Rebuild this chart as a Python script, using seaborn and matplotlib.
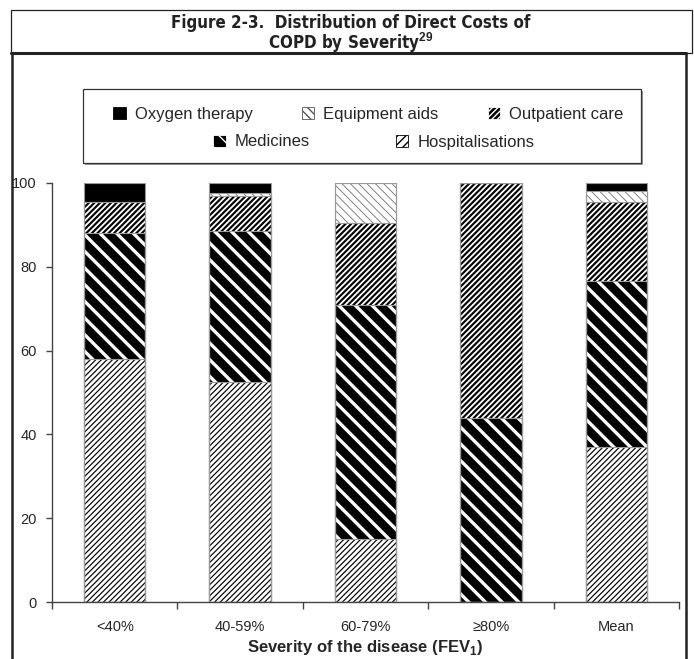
import numpy as np
import pandas as pd
import matplotlib
matplotlib.use("Agg")
import matplotlib.pyplot as plt
from matplotlib.patches import Rectangle, Patch
from matplotlib.lines import Line2D
import seaborn as sns

# data (percent of direct costs)
categories = ["<40%", "40-59%", "60-79%", "\u226580%", "Mean"]
hospitalisations = [58.0, 52.5, 15.0, 0.0, 37.0]
medicines = [30.0, 36.0, 56.0, 44.0, 39.5]
outpatient_care = [7.5, 8.3, 19.5, 56.0, 19.0]
equipment_aids = [0.0, 0.7, 9.5, 0.0, 2.5]
oxygen_therapy = [4.5, 2.5, 0.0, 0.0, 2.0]
yticks = [0, 20, 40, 60, 80, 100]

W, H = 694, 659
BAR_WIDTH = 0.49

sns.set_style("white")
plt.rcParams["font.family"] = ["Liberation Sans", "DejaVu Sans"]
plt.rcParams["mathtext.fontset"] = "custom"
plt.rcParams["mathtext.rm"] = "Liberation Sans"
plt.rcParams["mathtext.bf"] = "Liberation Sans:bold"


def fx(x):
    return x / W


def fy(y):
    return 1 - y / H


# style of each series: facecolor, hatch colour, hatch, hatch linewidth
styles = {
    "Oxygen therapy": ("black", "black", "", 0.5),
    "Equipment aids": ("white", "#707070", "\\" * 4, 0.6),
    "Outpatient care": ("black", "white", "/" * 6, 1.3),
    "Medicines": ("black", "white", "\\" * 2, 2.4),
    "Hospitalisations": ("white", "black", "/" * 6, 0.85),
}


def style_patch(p, name):
    face, hcol, hatch, hlw = styles[name]
    p.set_facecolor(face)
    p.set_edgecolor(hcol)
    p.set_linewidth(0)
    p.set_hatch(hatch)
    if hasattr(p, "set_hatch_linewidth"):
        p.set_hatch_linewidth(hlw)


df = pd.DataFrame({
    "severity": categories,
    "Hospitalisations": hospitalisations,
    "Medicines": medicines,
    "Outpatient care": outpatient_care,
    "Equipment aids": equipment_aids,
    "Oxygen therapy": oxygen_therapy,
})
stack_order = ["Hospitalisations", "Medicines", "Outpatient care", "Equipment aids", "Oxygen therapy"]
cum = df[stack_order].cumsum(axis=1)

fig = plt.figure(figsize=(W / 100, H / 100), dpi=100)
ax = fig.add_axes([fx(52), fy(602), fx(679) - fx(52), fy(183) - fy(602)])

# stacked bars: draw cumulative totals from the top segment down
for name in stack_order[::-1]:
    n0 = len(ax.patches)
    face = styles[name][0]
    with plt.rc_context({"hatch.linewidth": styles[name][3]}):
        sns.barplot(x=df["severity"], y=cum[name], order=categories, color=face,
                    saturation=1, width=BAR_WIDTH, errorbar=None, ax=ax)
        for p in ax.patches[n0:]:
            style_patch(p, name)

# thin grey outlines of every segment
for name in stack_order:
    sns.barplot(x=df["severity"], y=cum[name], order=categories, color="#9a9a9a",
                fill=False, linewidth=0.8, width=BAR_WIDTH, errorbar=None, ax=ax)

ax.set_xlim(-0.5, 4.5)
ax.set_ylim(0, 100)
ax.set_yticks(yticks)
ax.set_xticks(range(len(categories)))
ax.set_xticklabels(categories)
ax.set_xticks(np.arange(-0.5, 5, 1), minor=True)
ax.tick_params(axis="x", which="major", length=0, pad=13, labelsize=10.5)
ax.tick_params(axis="x", which="minor", length=5, width=1, direction="out",
               color="#444444", bottom=True)
ax.tick_params(axis="y", length=4, width=1, direction="out", left=True,
               color="#444444", pad=7, labelsize=10.5)
for s in ["top", "right"]:
    ax.spines[s].set_visible(False)
for s in ["left", "bottom"]:
    ax.spines[s].set_color("#444444")
    ax.spines[s].set_linewidth(1)
ax.set_ylabel("")
ax.set_xlabel(r"Severity of the disease (FEV$_\mathbf{1}$)", fontsize=12,
              fontweight="bold", labelpad=3)

# title box and outer frame
fig.add_artist(Rectangle((fx(11), fy(53)), fx(692) - fx(11), fy(10) - fy(53),
                         transform=fig.transFigure, fill=False, lw=0.9, ec="#222222"))
fig.add_artist(Line2D([fx(11), fx(686)], [fy(53), fy(53)], transform=fig.transFigure,
                      lw=2.2, color="#222222"))
fig.add_artist(Line2D([fx(12), fx(12)], [fy(53), fy(662)], transform=fig.transFigure,
                      lw=1.8, color="#222222"))
fig.add_artist(Line2D([fx(686), fx(686)], [fy(53), fy(662)], transform=fig.transFigure,
                      lw=1.8, color="#222222"))
title_kw = dict(ha="center", va="baseline", fontsize=12.2, fontweight="bold",
                family=["DejaVu Sans"], fontstretch="condensed", color="#222222")
fig.text(fx(351), fy(28.5), "Figure 2-3.  Distribution of Direct Costs of", **title_kw)
fig.text(fx(351), fy(48.5), r"COPD by Severity$^{\mathbf{29}}$", **title_kw)

# legend box with a soft shadow
fig.add_artist(Rectangle((fx(85), fy(165)), fx(643) - fx(85), fy(91) - fy(165),
                         transform=fig.transFigure, fc="#9a9a9a", ec="none"))
fig.add_artist(Rectangle((fx(83), fy(163)), fx(641) - fx(83), fy(89) - fy(163),
                         transform=fig.transFigure, fc="white", ec="#333333", lw=0.9))


def proxy(name):
    face, hcol, hatch, hlw = styles[name]
    if name == "Hospitalisations":
        hatch = "/" * 4
    p = Patch(facecolor=face, edgecolor=hcol, hatch=hatch, linewidth=0.6)
    if name in ("Equipment aids", "Hospitalisations"):
        p.set_edgecolor("black" if name == "Hospitalisations" else "#555555")
    if hasattr(p, "set_hatch_linewidth"):
        p.set_hatch_linewidth(hlw)
    return p


row1 = ["Oxygen therapy", "Equipment aids", "Outpatient care"]
row2 = ["Medicines", "Hospitalisations"]
leg_kw = dict(frameon=False, fontsize=12, handlelength=0.75, handleheight=0.75,
              handletextpad=0.55, borderpad=0, borderaxespad=0, loc="center left")
leg1 = fig.legend([proxy(n) for n in row1], row1, ncol=3, columnspacing=2.95,
                  bbox_to_anchor=(fx(113), fy(114)), **leg_kw)
leg2 = fig.legend([proxy(n) for n in row2], row2, ncol=2, columnspacing=5.15,
                  bbox_to_anchor=(fx(213), fy(142)), **leg_kw)
for leg in (leg1, leg2):
    leg.set_zorder(5)

fig.savefig("out.png", dpi=100)
